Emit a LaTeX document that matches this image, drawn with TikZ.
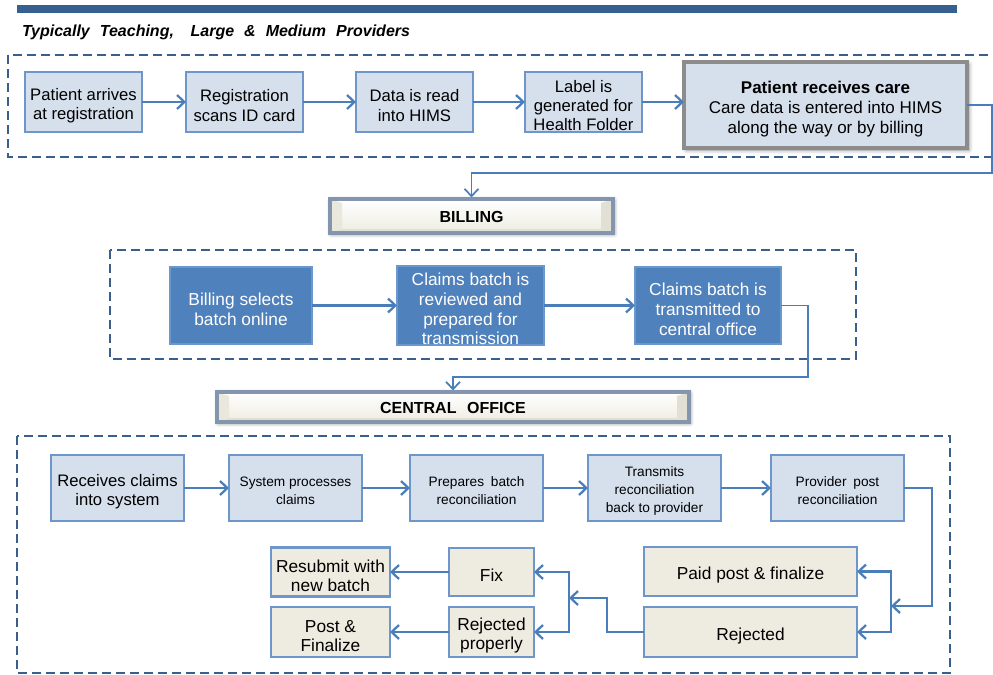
\documentclass[tikz,border=0pt]{standalone}
\usepackage{fontspec}
\setmainfont{Liberation Sans}
\usetikzlibrary{arrows.meta,shadows.blur}

\definecolor{barblue}{HTML}{36608F}
\definecolor{framecol}{HTML}{3B5F8C}
\definecolor{linkblue}{HTML}{4A7EBB}
\definecolor{boxfill}{HTML}{D6DFEC}
\definecolor{boxedge}{HTML}{6F96CA}
\definecolor{deepfill}{HTML}{4F81BD}
\definecolor{deepedge}{HTML}{6A97CC}
\definecolor{beige}{HTML}{EEECE1}
\definecolor{grayedge}{HTML}{8C8C8C}
\definecolor{hdrline}{HTML}{8396AE}
\definecolor{bevelL}{HTML}{EAE7DD}
\definecolor{bevelR}{HTML}{E2DFD4}

\newlength\pxl \setlength\pxl{0.75pt}
\newcommand\fsz[2]{\fontsize{#1}{#2}\selectfont}
% taller first line so box text sits a little low, as in slide text frames
\newcommand\lowtext{\rule{0pt}{1.15em}}
% bevelled faces of a header button, then its outline on top
\newcommand\bevelfaces[1]{%
  \fill[white] (#1.north west) -- ([shift={(12,4)}]#1.north west) -- ([shift={(-12,4)}]#1.north east) -- (#1.north east) -- cycle;
  \fill[bevelR] (#1.south west) -- ([shift={(12,-4)}]#1.south west) -- ([shift={(-12,-4)}]#1.south east) -- (#1.south east) -- cycle;
  \fill[bevelL] (#1.north west) -- ([shift={(12,4)}]#1.north west) -- ([shift={(12,-4)}]#1.south west) -- (#1.south west) -- cycle;
  \fill[bevelR] (#1.north east) -- ([shift={(-12,4)}]#1.north east) -- ([shift={(-12,-4)}]#1.south east) -- (#1.south east) -- cycle;
  \draw[hdredge] (#1.north west) rectangle (#1.south east);}

\begin{document}
\begin{tikzpicture}[x=0.75pt,y=-0.75pt,
  >={Straight Barb[length=5.5pt,width=10.5pt]},
  every node/.style={inner sep=0pt, outer sep=0pt, align=center},
  frame/.style={draw=framecol, line width=1.8pt, dash pattern=on 6.5pt off 4pt},
  lightbox/.style={draw=boxedge, fill=boxfill, line width=1.8pt, font=\fsz{12.5}{14.5}},
  carebox/.style={draw=grayedge, fill=boxfill, line width=2.4pt, font=\fsz{12.75}{15},
    blur shadow={shadow xshift=1.5pt, shadow yshift=-1.5pt, shadow blur radius=3pt, shadow opacity=45}},
  deepbox/.style={draw=deepedge, fill=deepfill, line width=1pt, text=white, font=\fsz{13}{14.75}},
  tanbox/.style={draw=boxedge, fill=beige, line width=1.8pt, font=\fsz{13}{14.5}},
  hdr/.style={top color=white, bottom color=beige, font=\bfseries\fsz{12}{14},
    blur shadow={shadow xshift=0.8pt, shadow yshift=-0.8pt, shadow blur radius=3pt, shadow opacity=50}},
  hdredge/.style={draw=hdrline, line width=2.6pt},
  link/.style={draw=linkblue, line width=1.7pt},
  thinlink/.style={draw=linkblue, line width=1.3pt},
]
\useasboundingbox (0,0) rectangle (993,675);

% heading band and title
\fill[barblue] (17,5) rectangle (957,13);
\node[anchor=base west, font=\bfseries\itshape\fsz{12}{14}] (title) at (22,36)
  {Typically\hspace{7.5pt}Teaching,\hspace{12.5pt}Large\hspace{7.5pt}\&\hspace{7.5pt}Medium\hspace{7.5pt}Providers};

% group frames
\draw[frame] (8,55) rectangle (1005,157);
\draw[frame] (110,250) rectangle (856,359);
\draw[frame] (17,436) rectangle (950,673);

% provider front desk
\node[lightbox, minimum width=117\pxl, minimum height=60\pxl] (n1) at (83.5,102) {\lowtext Patient arrives\\at registration};
\node[lightbox, minimum width=117\pxl, minimum height=60\pxl] (n2) at (244.5,102) {\lowtext Registration\\scans ID card};
\node[lightbox, minimum width=117\pxl, minimum height=60\pxl] (n3) at (414.5,102) {\lowtext Data is read\\into HIMS};
\node[lightbox, minimum width=117\pxl, minimum height=60\pxl] (n4) at (583.5,102) {\lowtext Label is\\generated for\\Health Folder};
\node[carebox, minimum width=283\pxl, minimum height=86\pxl] (n5) at (825.5,105)
  {\lowtext\textbf{Patient receives care}\\Care data is entered into HIMS\\along the way or by billing};

\draw[link,->] (n1.east) -- (n2.west);
\draw[link,->] (n2.east) -- (n3.west);
\draw[link,->] (n3.east) -- (n4.west);
\draw[link,->] (n4.east) -- (n4.east -| n5.west);

% billing header
\node[hdr, minimum width=283\pxl, minimum height=34\pxl] (bill) at (471.5,216) {};
\bevelfaces{bill}
\node[font=\bfseries\fsz{12}{14}] (billtxt) at ([yshift=-1pt]bill.center) {BILLING};

\coordinate (t1) at (992,173);
\draw[thinlink,->] (n5.east) -| (t1) -| ([yshift=1.2pt]bill.north);

% billing steps
\node[deepbox, minimum width=142\pxl, minimum height=77\pxl] (b1) at (241,305.5) {\lowtext Billing selects\\batch online};
\node[deepbox, minimum width=147\pxl, minimum height=77\pxl] (b2) at (470.5,305.5) {\lowtext Claims batch is\\reviewed and\\prepared for\\transmission};
\node[deepbox, minimum width=146\pxl, minimum height=77\pxl] (b3) at (708,305.5) {\lowtext Claims batch is\\transmitted to\\central office};

\draw[link,->] (b1.east) -- (b2.west);
\draw[link,->] (b2.east) -- (b3.west);

% central office header
\node[hdr, minimum width=472\pxl, minimum height=30\pxl] (co) at (453,407) {};
\bevelfaces{co}
\node[font=\bfseries\fsz{12}{14}] (cotxt) at ([yshift=-1pt]co.center) {CENTRAL\hspace{8pt}OFFICE};

\coordinate (t2) at (808,377);
\draw[thinlink,->] (b3.east) -| (t2) -| ([yshift=1.2pt]co.north);

% central office steps
\node[lightbox, minimum width=133\pxl, minimum height=66\pxl, font=\fsz{12.5}{13.75}] (c1) at (117.5,488) {\lowtext Receives claims\\into system};
\node[lightbox, minimum width=133\pxl, minimum height=66\pxl, font=\fsz{10.25}{13.5}] (c2) at (295.5,488) {\lowtext System processes\\claims};
\node[lightbox, minimum width=133\pxl, minimum height=66\pxl, font=\fsz{10.25}{13.5}] (c3) at (476.5,488) {\lowtext Prepares\hspace{0.5em}batch\\reconciliation};
\node[lightbox, minimum width=133\pxl, minimum height=66\pxl, font=\fsz{10.25}{13.5}] (c4) at (654.5,488) {\lowtext Transmits\\reconciliation\\back to provider};
\node[lightbox, minimum width=133\pxl, minimum height=66\pxl, font=\fsz{10.25}{13.5}] (c5) at (837.5,488) {\lowtext Provider\hspace{0.5em}post\\reconciliation};

\draw[link,->] (c1.east) -- (c2.west);
\draw[link,->] (c2.east) -- (c3.west);
\draw[link,->] (c3.east) -- (c4.west);
\draw[link,->] (c4.east) -- (c5.west);

% outcomes
\node[tanbox, minimum width=213\pxl, minimum height=49\pxl] (paid) at (750.5,571.5) {\lowtext Paid post \& finalize};
\node[tanbox, minimum width=213\pxl, minimum height=50\pxl] (rej) at (750.5,632) {\lowtext Rejected};
\node[tanbox, minimum width=85\pxl, minimum height=48\pxl] (fix) at (491.5,572) {\lowtext Fix};
\node[tanbox, minimum width=85\pxl, minimum height=50\pxl] (rejp) at (491.5,632) {\lowtext Rejected\\properly};
\node[tanbox, minimum width=119\pxl, minimum height=49\pxl] (resub) at (330.5,572) {\lowtext Resubmit with\\new batch};
\node[tanbox, minimum width=119\pxl, minimum height=50\pxl] (post) at (330.5,632) {\lowtext Post \&\\Finalize};

\coordinate (t3) at (932,606);
\coordinate (j1) at (891,606);
\draw[link,->] (c5.east) -| (t3) -- (j1);
\draw[link,<->] (paid.east) -- ++(34,0) |- (rej.east);

\coordinate (t4) at (607,598);
\coordinate (j2) at (569,598);
\draw[link,->] (rej.west) -| (t4) -- (j2);
\draw[link,<->] (fix.east) -- ++(35,0) |- (rejp.east);

\draw[link,->] (fix.west) -- (resub.east);
\draw[link,->] (rejp.west) -- (post.east);
\end{tikzpicture}
\end{document}
